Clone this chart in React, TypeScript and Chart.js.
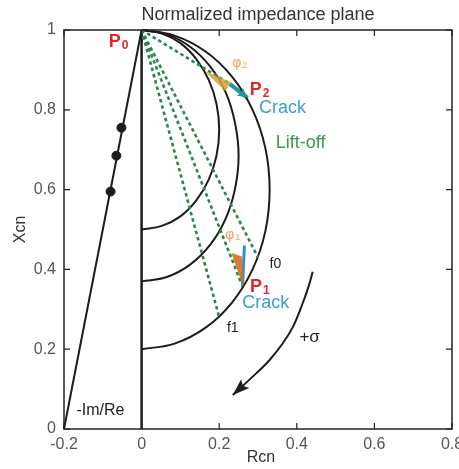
import React, { useEffect, useRef } from "react";
import { Chart, registerables } from "chart.js";

Chart.register(...registerables);

// ---- tick values / labels ----
const xTickValues = [-0.2, 0, 0.2, 0.4, 0.6, 0.8];
const xTickLabels = ["-0.2", "0", "0.2", "0.4", "0.6", "0.8"];
const yTickValues = [0, 0.2, 0.4, 0.6, 0.8, 1];
const yTickLabels = ["0", "0.2", "0.4", "0.6", "0.8", "1"];

// ---- impedance arcs ----
const arc1X = [0, 0.052, 0.1, 0.141, 0.173, 0.193, 0.2, 0.193, 0.173, 0.141, 0.1, 0.052, 0];
const arc1Y = [1, 0.991, 0.967, 0.927, 0.875, 0.815, 0.75, 0.685, 0.625, 0.573, 0.533, 0.509, 0.5];
const arc2X = [0, 0.065, 0.125, 0.177, 0.217, 0.241, 0.25, 0.241, 0.217, 0.177, 0.125, 0.065, 0];
const arc2Y = [1, 0.989, 0.958, 0.908, 0.843, 0.766, 0.685, 0.603, 0.528, 0.462, 0.412, 0.381, 0.37];
const arc3X = [0, 0.085, 0.165, 0.233, 0.286, 0.319, 0.33, 0.319, 0.286, 0.233, 0.165, 0.085, 0];
const arc3Y = [1, 0.986, 0.946, 0.883, 0.8, 0.704, 0.6, 0.496, 0.4, 0.317, 0.254, 0.214, 0.2];

// ---- -Im/Re line and its dots ----
const imReX = [-0.2, 0];
const imReY = [0, 1];
const imReDotX = [-0.052, -0.065, -0.08];
const imReDotY = [0.755, 0.685, 0.595];

// ---- vertical axis line at Rcn = 0 ----
const zeroLineX = [0, 0];
const zeroLineY = [0, 1];

// ---- P0 and dashed lift-off lines ----
const p0X = 0;
const p0Y = 1;
const dashEndX = [0.2, 0.255, 0.3, 0.222];
const dashEndY = [0.28, 0.37, 0.43, 0.868];

// ---- crack vectors ----
const crackP2X = [0.227, 0.273];
const crackP2Y = [0.865, 0.83];
const crackP1X = [0.26, 0.265];
const crackP1Y = [0.355, 0.46];

// ---- angle wedges ----
const phi1X = [0.233, 0.258, 0.262, 0.233];
const phi1Y = [0.44, 0.432, 0.358, 0.44];
const phi2X = [0.165, 0.229, 0.216, 0.165];
const phi2Y = [0.895, 0.869, 0.848, 0.895];

// ---- +sigma curved arrow ----
const sigmaX = [0.441, 0.429, 0.412, 0.39, 0.364, 0.33, 0.296, 0.235];
const sigmaY = [0.394, 0.353, 0.307, 0.256, 0.215, 0.173, 0.14, 0.085];

const FONT = "'Liberation Sans', Arial, Helvetica, sans-serif";

type Ann = { text: string; sub?: string; x: number; y: number; color: string; size: number; bold?: boolean };

const annotations: Ann[] = [
  { text: "P", sub: "0", x: -0.059, y: 0.97, color: "#e2262f", size: 18, bold: true },
  { text: "φ", sub: "2", x: 0.253, y: 0.917, color: "#f0a05a", size: 14 },
  { text: "P", sub: "2", x: 0.304, y: 0.85, color: "#e2262f", size: 18, bold: true },
  { text: "Crack", x: 0.363, y: 0.805, color: "#3d9bd6", size: 18 },
  { text: "Lift-off", x: 0.41, y: 0.717, color: "#3a9a4a", size: 18 },
  { text: "φ", sub: "1", x: 0.235, y: 0.486, color: "#f0a05a", size: 14 },
  { text: "f0", x: 0.345, y: 0.414, color: "#222", size: 14 },
  { text: "P", sub: "1", x: 0.305, y: 0.355, color: "#e2262f", size: 18, bold: true },
  { text: "Crack", x: 0.32, y: 0.316, color: "#3d9bd6", size: 18 },
  { text: "f1", x: 0.235, y: 0.252, color: "#222", size: 14 },
  { text: "+σ", x: 0.433, y: 0.23, color: "#222", size: 17 },
  { text: "-Im/Re", x: -0.106, y: 0.045, color: "#222", size: 16 },
];

const pts = (xs: number[], ys: number[]) => xs.map((x, i) => ({ x, y: ys[i] }));

const textPlugin = {
  id: "texts",
  afterDatasetsDraw(chart: any) {
    const { ctx, scales } = chart;
    ctx.save();
    ctx.textBaseline = "middle";
    ctx.textAlign = "left";
    for (const a of annotations) {
      const px = scales.x.getPixelForValue(a.x);
      const py = scales.y.getPixelForValue(a.y);
      const mainFont = `${a.bold ? "bold " : ""}${a.size}px ${FONT}`;
      const subSize = Math.round(a.size * 0.65);
      const subFont = `${a.bold ? "bold " : ""}${subSize}px ${FONT}`;
      ctx.font = mainFont;
      const w1 = ctx.measureText(a.text).width;
      let w2 = 0;
      if (a.sub) {
        ctx.font = subFont;
        w2 = ctx.measureText(a.sub).width + 1;
      }
      const sx = px - (w1 + w2) / 2;
      ctx.fillStyle = a.color;
      ctx.font = mainFont;
      ctx.fillText(a.text, sx, py);
      if (a.sub) {
        ctx.font = subFont;
        ctx.fillText(a.sub, sx + w1 + 1, py + a.size * 0.2);
      }
    }
    ctx.restore();
  },
};

const framePlugin = {
  id: "frame",
  afterDraw(chart: any) {
    const { ctx, chartArea: a, scales } = chart;
    ctx.save();
    ctx.strokeStyle = "#222";
    ctx.lineWidth = 1.5;
    ctx.strokeRect(a.left, a.top, a.right - a.left, a.bottom - a.top);
    const L = 6;
    ctx.lineWidth = 1.2;
    ctx.beginPath();
    for (const v of xTickValues) {
      const px = scales.x.getPixelForValue(v);
      ctx.moveTo(px, a.bottom);
      ctx.lineTo(px, a.bottom - L);
      ctx.moveTo(px, a.top);
      ctx.lineTo(px, a.top + L);
    }
    for (const v of yTickValues) {
      const py = scales.y.getPixelForValue(v);
      ctx.moveTo(a.left, py);
      ctx.lineTo(a.left + L, py);
      ctx.moveTo(a.right, py);
      ctx.lineTo(a.right - L, py);
    }
    ctx.stroke();

    // title and axis titles
    ctx.fillStyle = "#333";
    ctx.textAlign = "center";
    ctx.textBaseline = "middle";
    ctx.font = `18px ${FONT}`;
    ctx.fillText("Normalized impedance plane", (a.left + a.right) / 2, 15);
    ctx.font = `16px ${FONT}`;
    ctx.fillText("Rcn", (a.left + a.right) / 2 + 3, 458);
    ctx.translate(21, (a.top + a.bottom) / 2);
    ctx.rotate(-Math.PI / 2);
    ctx.fillText("Xcn", 0, 0);
    ctx.restore();
  },
};

const arrowPlugin = {
  id: "arrows",
  afterDatasetsDraw(chart: any) {
    const { ctx } = chart;
    chart.data.datasets.forEach((ds: any, i: number) => {
      if (!ds.arrowHead) return;
      const meta = chart.getDatasetMeta(i);
      const n = meta.data.length;
      const tip = meta.data[n - 1];
      const prev = meta.data[n - 2];
      const ang = Math.atan2(tip.y - prev.y, tip.x - prev.x);
      const { len, width, color } = ds.arrowHead;
      ctx.save();
      ctx.translate(tip.x, tip.y);
      ctx.rotate(ang);
      ctx.fillStyle = color;
      ctx.beginPath();
      ctx.moveTo(0, 0);
      ctx.lineTo(-len, width / 2);
      ctx.lineTo(-len * 0.8, 0);
      ctx.lineTo(-len, -width / 2);
      ctx.closePath();
      ctx.fill();
      ctx.restore();
    });
  },
};

export default function App() {
  const ref = useRef<HTMLCanvasElement | null>(null);

  useEffect(() => {
    document.body.style.margin = "0";
    if (!ref.current) return;

    const lineBase = { pointRadius: 0, tension: 0, fill: false, clip: 6 };
    const arcStyle = { ...lineBase, borderColor: "#1c1c1c", borderWidth: 2, tension: 0.4 };
    const dashStyle = { ...lineBase, borderColor: "#24884c", borderWidth: 2.6, borderDash: [3.5, 3] };

    const datasets: any[] = [
      { ...lineBase, data: pts(phi2X, phi2Y), fill: "shape", backgroundColor: "rgba(214,164,60,0.85)", borderColor: "rgba(214,164,60,0.6)", borderWidth: 1 },
      { ...lineBase, data: pts(phi1X, phi1Y), fill: "shape", backgroundColor: "rgba(214,110,30,0.9)", borderColor: "rgba(214,110,30,0.6)", borderWidth: 1 },
      ...dashEndX.map((ex, i) => ({ ...dashStyle, data: [{ x: p0X, y: p0Y }, { x: ex, y: dashEndY[i] }] })),
      { ...arcStyle, data: pts(arc1X, arc1Y) },
      { ...arcStyle, data: pts(arc2X, arc2Y) },
      { ...arcStyle, data: pts(arc3X, arc3Y) },
      { ...lineBase, data: pts(zeroLineX, zeroLineY), borderColor: "#1c1c1c", borderWidth: 2.5 },
      { ...lineBase, data: pts(imReX, imReY), borderColor: "#1c1c1c", borderWidth: 2 },
      { ...lineBase, data: pts(imReDotX, imReDotY), showLine: false, pointRadius: 4.5, pointBackgroundColor: "#1c1c1c", pointBorderColor: "#1c1c1c" },
      { ...lineBase, data: pts(crackP2X, crackP2Y), borderColor: "#1f9a9c", borderWidth: 4, arrowHead: { len: 10, width: 10, color: "#1f9a9c" } },
      { ...lineBase, data: pts(crackP1X, crackP1Y), borderColor: "#2b8fd9", borderWidth: 3 },
      { ...lineBase, data: pts(sigmaX, sigmaY), borderColor: "#1c1c1c", borderWidth: 2, tension: 0.35, arrowHead: { len: 17, width: 12, color: "#1c1c1c" } },
    ];

    const chart = new Chart(ref.current, {
      type: "line",
      data: { datasets },
      options: {
        animation: false,
        responsive: false,
        maintainAspectRatio: false,
        layout: { padding: { top: 30, right: 7, bottom: 0, left: 0 } },
        plugins: { legend: { display: false }, tooltip: { enabled: false }, title: { display: false } },
        scales: {
          x: {
            type: "linear",
            min: -0.2,
            max: 0.8,
            grid: { display: false, drawTicks: false },
            border: { display: false },
            afterBuildTicks: (s: any) => {
              s.ticks = xTickValues.map((v) => ({ value: v }));
            },
            afterFit: (s: any) => {
              s.height = 40;
              s.paddingLeft = 0;
              s.paddingRight = 0;
            },
            ticks: {
              padding: 6,
              color: "#555",
              font: { size: 16, family: FONT },
              maxRotation: 0,
              autoSkip: false,
              callback: (v: any) => {
                const i = xTickValues.findIndex((t) => Math.abs(t - Number(v)) < 1e-6);
                return i >= 0 ? xTickLabels[i] : "";
              },
            },
          },
          y: {
            type: "linear",
            min: 0,
            max: 1,
            grid: { display: false, drawTicks: false },
            border: { display: false },
            afterBuildTicks: (s: any) => {
              s.ticks = yTickValues.map((v) => ({ value: v }));
            },
            afterFit: (s: any) => {
              s.width = 64;
              s.paddingTop = 0;
              s.paddingBottom = 0;
            },
            ticks: {
              padding: 8,
              color: "#555",
              font: { size: 16, family: FONT },
              autoSkip: false,
              callback: (v: any) => {
                const i = yTickValues.findIndex((t) => Math.abs(t - Number(v)) < 1e-6);
                return i >= 0 ? yTickLabels[i] : "";
              },
            },
          },
        },
      } as any,
      plugins: [framePlugin, textPlugin, arrowPlugin],
    });
    return () => chart.destroy();
  }, []);

  return (
    <div style={{ position: "absolute", left: 0, top: 0, width: 459, height: 469, background: "#fff" }}>
      <canvas ref={ref} width={459} height={469} style={{ display: "block", width: 459, height: 469 }} />
    </div>
  );
}
